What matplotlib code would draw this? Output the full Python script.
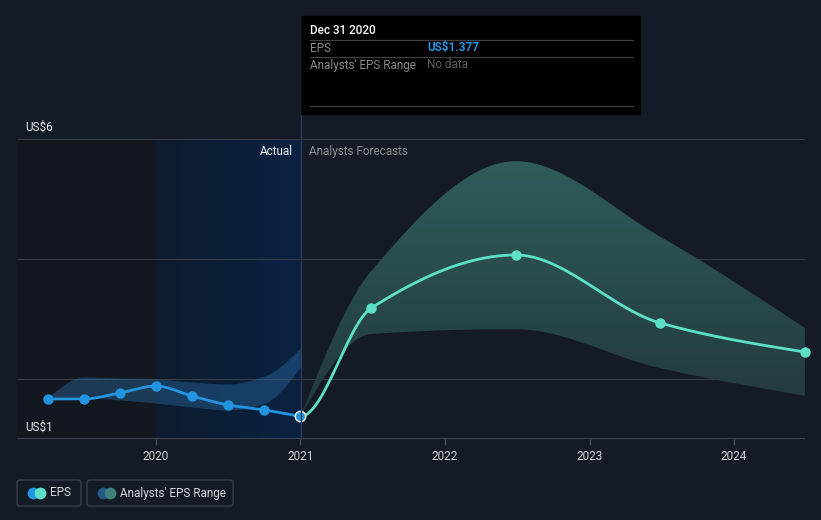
import numpy as np
import matplotlib
matplotlib.use("Agg")
import matplotlib.pyplot as plt
from matplotlib.patches import FancyBboxPatch, Rectangle
from matplotlib.lines import Line2D

plt.rcParams['font.family'] = ['Roboto', 'DejaVu Sans']

# ---------------- data ----------------
hist_x = [2019.25, 2019.5, 2019.75, 2020.0, 2020.25, 2020.5, 2020.75, 2021.0]
hist_eps = [1.667, 1.667, 1.767, 1.883, 1.717, 1.567, 1.483, 1.377]
hist_hi = [1.683, 2.033, 2.017, 2.0, 1.95, 1.917, 2.05, 2.517]
hist_lo = [1.683, 1.70, 1.65, 1.60, 1.533, 1.483, 1.60, 2.20]

fc_x = [2021.0, 2021.49, 2022.49, 2023.49, 2024.49]
fc_eps = [1.377, 3.183, 4.067, 2.933, 2.45]
fc_hi = [1.377, 3.80, 5.63, 4.37, 2.85]
fc_lo = [1.377, 2.75, 2.83, 2.18, 1.72]

xticks = [2020, 2021, 2022, 2023, 2024]
xticklabels = ["2020", "2021", "2022", "2023", "2024"]

BG = '#151b26'
EPS_BLUE = '#2394df'
EPS_TEAL = '#5ce0c8'

W, H = 821, 520


def monotone(x, y, n=200, m0=None):
    x = np.asarray(x, float); y = np.asarray(y, float)
    h = np.diff(x); d = np.diff(y) / h
    m = np.zeros_like(y)
    for i in range(1, len(y) - 1):
        if d[i - 1] * d[i] <= 0:
            m[i] = 0
        else:
            w1 = 2 * h[i] + h[i - 1]; w2 = h[i] + 2 * h[i - 1]
            m[i] = (w1 + w2) / (w1 / d[i - 1] + w2 / d[i])
    m[0] = (3 * d[0] - m[1]) / 2 if len(y) > 2 else d[0]
    m[-1] = (3 * d[-1] - m[-2]) / 2 if len(y) > 2 else d[-1]
    if m[0] * d[0] < 0: m[0] = 0
    if m[-1] * d[-1] < 0: m[-1] = 0
    if m0 is not None:
        m[0] = m0
    xs, ys = [], []
    for i in range(len(h)):
        t = np.linspace(0, 1, n)
        h00 = 2*t**3 - 3*t**2 + 1; h10 = t**3 - 2*t**2 + t
        h01 = -2*t**3 + 3*t**2; h11 = t**3 - t**2
        xs.append(x[i] + t * h[i])
        ys.append(h00*y[i] + h10*h[i]*m[i] + h01*y[i+1] + h11*h[i]*m[i+1])
    return np.concatenate(xs), np.concatenate(ys)


fig = plt.figure(figsize=(W/100, H/100), dpi=100, facecolor=BG)
L, R, T, B = 17, 805, 139, 439
ax = fig.add_axes([L/W, 1 - B/H, (R-L)/W, (B-T)/H])
ax.set_facecolor(BG)
x0 = 2020 - (156 - L) / 144.6
x1 = 2024 + (R - 734) / 144.6
ax.set_xlim(x0, x1)
ax.set_ylim(1, 6)

# background regions
ax.axvspan(x0, 2020, color='#13171f', zorder=0, lw=0)
grad = np.linspace(0, 1, 256)[None, :]
c0 = np.array([13, 27, 46]) / 255; c1 = np.array([11, 34, 66]) / 255
img = c0[None, None, :] * (1 - grad[..., None]) + c1[None, None, :] * grad[..., None]
ax.imshow(img, extent=[2020, 2021, 1, 6], aspect='auto', zorder=0.5)

# gridlines
for yv in [2, 4, 6]:
    ax.axhline(yv, color='#363c47', lw=0.8, zorder=1)
ax.axhline(1, color='#4a505a', lw=1.2, zorder=1)

# historic band
bx, bh = monotone(hist_x, hist_hi)
_, bl = monotone(hist_x, hist_lo)
ax.fill_between(bx, bl, bh, color='#2a6fa6', alpha=0.4, lw=0, zorder=2)

# forecast band with vertical gradient
fx, fh = monotone(fc_x, fc_hi)
_, fl = monotone(fc_x, fc_lo)
poly = ax.fill_between(fx, fl, fh, color='none', lw=0, zorder=2)
vg = np.linspace(0, 1, 256)[:, None]
top = np.array([47, 92, 92]) / 255; bot = np.array([34, 56, 62]) / 255
gimg = top[None, None, :] * (1 - vg[..., None]) + bot[None, None, :] * vg[..., None]
gimg = np.repeat(gimg, 2, axis=1)
im = ax.imshow(gimg, extent=[2021, x1, 1.3, 5.7], aspect='auto', zorder=2)
im.set_clip_path(poly.get_paths()[0], transform=ax.transData)
ax.set_xlim(x0, x1); ax.set_ylim(1, 6)

# lines
hx, hy = monotone(hist_x, hist_eps)
ax.plot(hx, hy, color=EPS_BLUE, lw=2, zorder=4, solid_capstyle='round')
ax.plot(hist_x[:-1], hist_eps[:-1], 'o', color=EPS_BLUE, ms=6.5, zorder=5)
fxx, fyy = monotone(fc_x, fc_eps, m0=0.0)
ax.plot(fxx, fyy, color=EPS_TEAL, lw=2, zorder=4, solid_capstyle='round')
ax.plot(fc_x[1:], fc_eps[1:], 'o', color=EPS_TEAL, ms=6.5, zorder=5, clip_on=False)
ax.plot([hist_x[-1]], [hist_eps[-1]], 'o', color=EPS_BLUE, mec='white', mew=1, ms=7.5, zorder=6)

# axes styling
for s in ax.spines.values():
    s.set_visible(False)
ax.set_yticks([])
ax.set_xticks(xticks)
ax.set_xticklabels(xticklabels, color='#d6d8dc', fontsize=8.5)
ax.tick_params(axis='x', length=4, color='#4a505a', width=1, pad=4)

# y labels
fig.text(25/W, 1 - 127/H, "US$6", color='#e8e9eb', fontsize=8.5, va='center', ha='left')
fig.text(25/W, 1 - 427/H, "US$1", color='#e8e9eb', fontsize=8.5, va='center', ha='left')

# Actual / Forecast labels
fig.text(293/W, 1 - 151/H, "Actual", color='#f0f0f0', fontsize=8.5, ha='right', va='center')
fig.text(309/W, 1 - 151/H, "Analysts Forecasts", color='#8a8f96', fontsize=8.5, ha='left', va='center')

# vertical divider
fig.add_artist(Line2D([301/W, 301/W], [1 - 16/H, 1 - 439/H], color='#2c3e5a', lw=1, zorder=3))

# tooltip
fig.add_artist(Rectangle((301/W, 1 - 114/H), (640-301)/W, (114-16)/H, color='black', zorder=10))
for yy in [40, 57, 106]:
    fig.add_artist(Line2D([310/W, 633/W], [1 - yy/H, 1 - yy/H], color='#3f3f3f', lw=0.9, zorder=11))
fig.text(310/W, 1 - 31/H, "Dec 31 2020", color='white', fontsize=8.5, fontweight='medium', va='center', zorder=12)
fig.text(310/W, 1 - 48/H, "EPS", color='#8a8a8a', fontsize=8.5, va='center', zorder=12)
fig.text(427/W, 1 - 48/H, "US$1.377", color=EPS_BLUE, fontsize=8.5, fontweight='bold', va='center', zorder=12)
fig.text(310/W, 1 - 65/H, "Analysts' EPS Range", color='#8a8a8a', fontsize=8.5, va='center', zorder=12)
fig.text(427/W, 1 - 65/H, "No data", color='#5e5e5e', fontsize=8.5, va='center', zorder=12)

# legend
def legbox(xl, xr, c1, c2, label):
    fig.add_artist(FancyBboxPatch((xl/W, 1 - 506/H), (xr-xl)/W, 26/H,
                                  boxstyle="round,pad=0,rounding_size=0.004",
                                  fc='none', ec='#3a404a', lw=1, zorder=5))
    fig.add_artist(Line2D([(xl+16)/W], [1 - 493/H], marker='o', ms=7.5, color=c1, lw=0, zorder=6))
    fig.add_artist(Line2D([(xl+23)/W], [1 - 493/H], marker='o', ms=7.5, color=c2, lw=0, zorder=7))
    fig.text((xl+33)/W, 1 - 493/H, label, color='#d6d8dc', fontsize=8.5, va='center', zorder=8)

legbox(17, 81, EPS_BLUE, EPS_TEAL, "EPS")
legbox(87, 233, '#1f5b82', '#3f807c', "Analysts' EPS Range")

fig.savefig("out.png", dpi=100, facecolor=BG)
